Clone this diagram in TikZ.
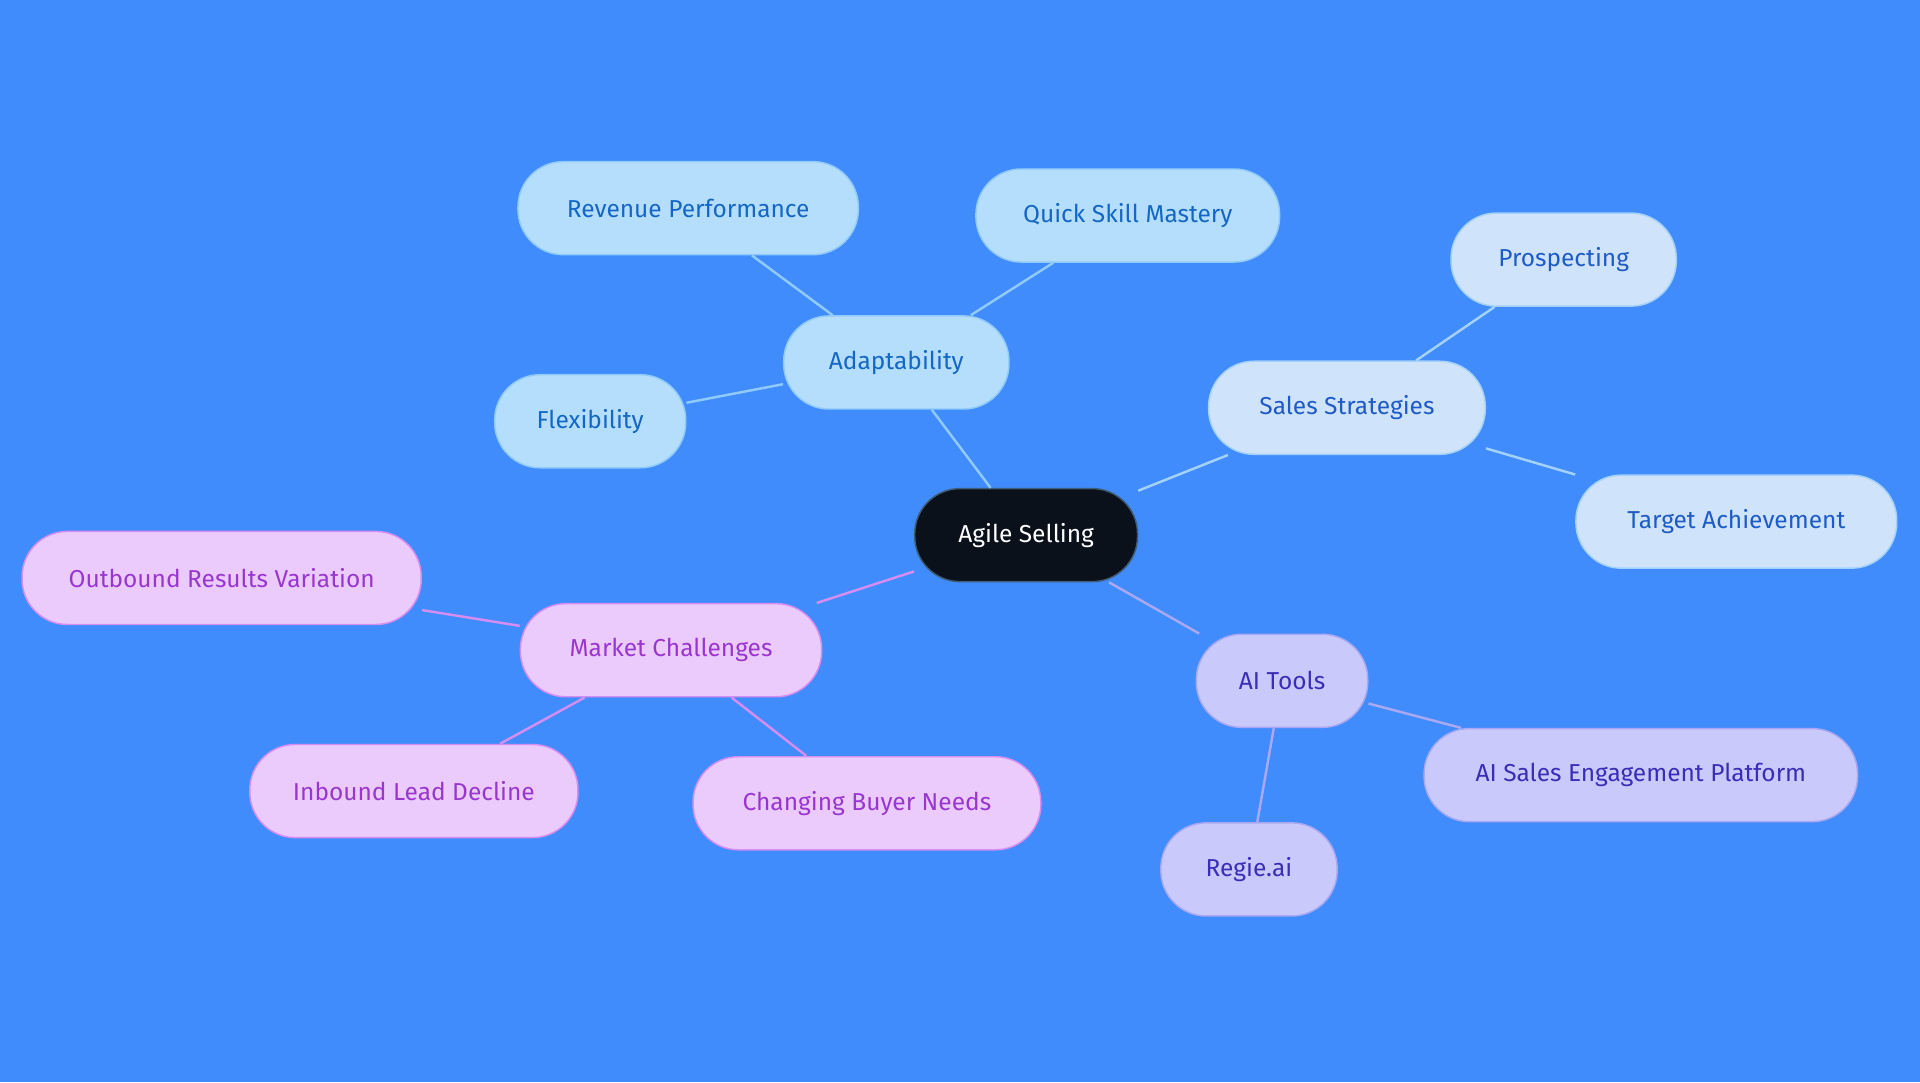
\documentclass[tikz,border=0pt]{standalone}
\usepackage{fontspec}
\setmainfont{Fira Sans}
\usetikzlibrary{positioning}
\definecolor{bgblue}{HTML}{418CFD}
\definecolor{adfill}{HTML}{B5DEFD}
\definecolor{adline}{HTML}{90CAF9}
\definecolor{adtext}{HTML}{1467C4}
\definecolor{ssfill}{HTML}{CFE3FB}
\definecolor{sstext}{HTML}{1E5BC6}
\definecolor{aifill}{HTML}{C9CAFB}
\definecolor{ailine}{HTML}{A9A8F0}
\definecolor{aitext}{HTML}{3A2EB8}
\definecolor{mcfill}{HTML}{EBCBFB}
\definecolor{mcline}{HTML}{D68DF0}
\definecolor{mctext}{HTML}{9A36D0}
\definecolor{rootfill}{HTML}{0B111B}

\begin{document}
\begin{tikzpicture}[
    x=1pt, y=-1pt,
    pill/.style={rectangle, rounded corners=37pt, minimum height=76pt,
                 line width=1.2pt, font=\fontsize{20}{24}\selectfont, inner sep=0pt},
    rootbox/.style={pill, fill=rootfill, draw=adline!40!rootfill, text=white},
    adbox/.style={pill, fill=adfill, draw=adline, text=adtext},
    ssbox/.style={pill, fill=ssfill, draw=adline!70!ssfill, text=sstext},
    aibox/.style={pill, fill=aifill, draw=ailine, text=aitext},
    mcbox/.style={pill, fill=mcfill, draw=mcline, text=mctext},
    adedge/.style={draw=adline, line width=2pt},
    ssedge/.style={draw=adline!70!ssfill, line width=2pt},
    aiedge/.style={draw=ailine, line width=2pt},
    mcedge/.style={draw=mcline, line width=2pt}
]
\fill[bgblue] (0,0) rectangle (1568,884);

% Center
\node[rootbox, minimum width=182pt] (root) at (838,437) {Agile Selling};

% Adaptability branch
\node[adbox, minimum width=184pt] (adapt) at (732,296) {Adaptability};
\node[adbox, minimum width=278pt] (revenue) at (562,170) {Revenue Performance};
\node[adbox, minimum width=248pt] (skill) at (921,176) {Quick Skill Mastery};
\node[adbox, minimum width=156pt] (flex) at (482,344) {Flexibility};

% Sales strategies branch
\node[ssbox, minimum width=226pt] (sales) at (1100,333) {Sales Strategies};
\node[ssbox, minimum width=184pt] (prospect) at (1277,212) {Prospecting};
\node[ssbox, minimum width=262pt] (target) at (1418,426) {Target Achievement};

% AI branch
\node[aibox, minimum width=140pt] (ai) at (1047,556) {AI Tools};
\node[aibox, minimum width=354pt] (platform) at (1340,633) {AI Sales Engagement Platform};
\node[aibox, minimum width=144pt] (regie) at (1020,710) {Regie.ai};

% Market branch
\node[mcbox, minimum width=246pt] (market) at (548,531) {Market Challenges};
\node[mcbox, minimum width=326pt] (outbound) at (181,472) {Outbound Results Variation};
\node[mcbox, minimum width=268pt] (inbound) at (338,646) {Inbound Lead Decline};
\node[mcbox, minimum width=284pt] (buyer) at (708,656) {Changing Buyer Needs};

\begin{scope}[on background layer/.style={}]
\end{scope}

% Connectors
\draw[adedge] (root) -- (adapt);
\draw[adedge] (adapt) -- (revenue);
\draw[adedge] (adapt) -- (skill);
\draw[adedge] (adapt) -- (flex);
\draw[ssedge] (root) -- (sales);
\draw[ssedge] (sales) -- (prospect);
\draw[ssedge] (sales) -- (target);
\draw[aiedge] (root) -- (ai);
\draw[aiedge] (ai) -- (platform);
\draw[aiedge] (ai) -- (regie);
\draw[mcedge] (root) -- (market);
\draw[mcedge] (market) -- (outbound);
\draw[mcedge] (market) -- (inbound);
\draw[mcedge] (market) -- (buyer);
\end{tikzpicture}
\end{document}
